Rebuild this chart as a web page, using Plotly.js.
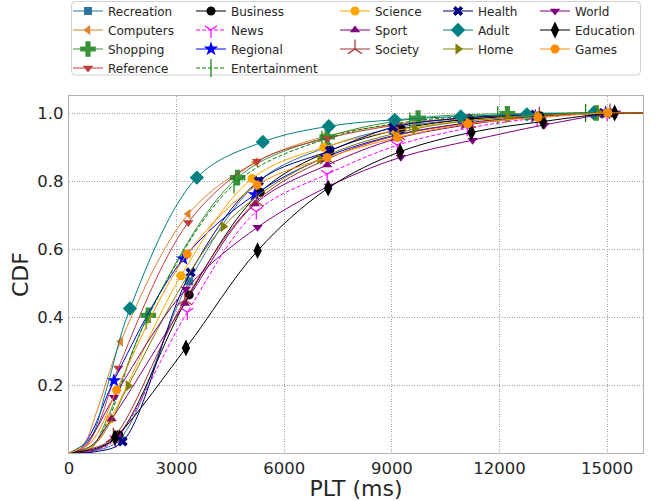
<!DOCTYPE html>
<html><head><meta charset="utf-8">
<script src="https://cdn.plot.ly/plotly-3.0.1.min.js"></script>
<style>html,body{margin:0;padding:0;background:#fff}#chart{width:659px;height:501px}</style>
</head><body><div id="chart"></div>
<script>
// ---- data ----
const categories = ['Recreation','Computers','Shopping','Reference','Business','News','Regional','Entertainment','Science','Sport','Society','Health','Adult','Home','World','Education','Games'];
const xTickVals = [0,3000,6000,9000,12000,15000];
const xTickText = ['0','3000','6000','9000','12000','15000'];
const yTickVals = [0.2,0.4,0.6,0.8,1.0];
const yTickText = ['0.2','0.4','0.6','0.8','1.0'];
const tailX = [16000];
const tailY = [1.0];

// marker points
const recreationX = [1420,3350,5300,7200,9030,10950,12870,14790];
const recreationY = [0.041,0.505,0.80,0.90,0.955,0.98,0.992,1.0];
const computersX = [1440,3324,5200,7100,9000,10900,12800,14700];
const computersY = [0.328,0.703,0.855,0.93,0.965,0.985,0.995,1.0];
const shoppingX = [2210,4700,7200,9730,12220,14700];
const shoppingY = [0.405,0.81,0.93,0.985,0.998,1.0];
const referenceX = [1375,3324,5245,7195,9150,11100,13050,15000];
const referenceY = [0.25,0.678,0.858,0.925,0.965,0.985,0.995,1.0];
const businessX = [1390,3351,5330,7270,9266,11170,13120,15070];
const businessY = [0.054,0.465,0.767,0.889,0.953,0.982,0.992,1.0];
const newsX = [1300,3296,5220,7195,9150,11100,13050,15000];
const newsY = [0.04,0.414,0.71,0.82,0.905,0.955,0.985,1.0];
const regionalX = [1253,3184,5181,7150,9100,11050,13000,14960];
const regionalY = [0.213,0.571,0.76,0.87,0.935,0.97,0.99,1.0];
const entertainmentX = [2150,4600,7050,9500,11950,14400];
const entertainmentY = [0.39,0.79,0.92,0.975,0.993,1.0];
const scienceX = [1150,3120,5100,7100,9080,11050,13030,15000];
const scienceY = [0.10,0.521,0.807,0.899,0.948,0.977,0.992,1.0];
const sportX = [1189,3231,5181,7195,9150,11100,13050,15000];
const sportY = [0.10,0.44,0.732,0.847,0.925,0.965,0.99,1.0];
const societyX = [1235,3230,5220,7200,9170,11140,13110,15080];
const societyY = [0.046,0.45,0.74,0.865,0.935,0.97,0.99,1.0];
const healthX = [1495,3390,5290,7270,9034,10950,12850,14750];
const healthY = [0.034,0.531,0.80,0.889,0.958,0.985,0.995,1.0];
const adultX = [1700,3565,5404,7242,9080,10920,12760,14620];
const adultY = [0.425,0.81,0.915,0.961,0.98,0.99,0.996,1.0];
const homeX = [1650,4300,6990,9638,12237,14790];
const homeY = [0.198,0.666,0.865,0.953,0.987,1.0];
const worldX = [1253,3259,5256,7250,9250,11250,13250,15250];
const worldY = [0.164,0.482,0.664,0.785,0.87,0.92,0.965,1.0];
const educationX = [1280,3260,5256,7223,9228,11217,13212,15209];
const educationY = [0.045,0.309,0.595,0.779,0.886,0.943,0.975,1.0];
const gamesX = [1327,3295,5245,7195,9150,11120,13072,15022];
const gamesY = [0.185,0.585,0.788,0.869,0.928,0.968,0.987,1.0];

// unmarked curve points near the origin
const recreationToeX = [0,700];      const recreationToeY = [0,0.006];
const computersToeX = [0,400,800];   const computersToeY = [0,0.025,0.13];
const shoppingToeX = [0,600,1100];   const shoppingToeY = [0,0.015,0.11];
const referenceToeX = [0,400,800];   const referenceToeY = [0,0.012,0.08];
const businessToeX = [0,700];        const businessToeY = [0,0.008];
const newsToeX = [0,700];            const newsToeY = [0,0.008];
const regionalToeX = [0,300,650];    const regionalToeY = [0,0.01,0.065];
const entertainmentToeX = [0,600,1100]; const entertainmentToeY = [0,0.013,0.10];
const scienceToeX = [0,600];         const scienceToeY = [0,0.015];
const sportToeX = [0,600];           const sportToeY = [0,0.02];
const societyToeX = [0,600];         const societyToeY = [0,0.012];
const healthToeX = [0,750];          const healthToeY = [0,0.004];
const adultToeX = [0,600,1050];      const adultToeY = [0,0.045,0.19];
const homeToeX = [0,700,1150];       const homeToeY = [0,0.025,0.09];
const worldToeX = [0,350,700];       const worldToeY = [0,0.012,0.06];
const educationToeX = [0,800];       const educationToeY = [0,0.015];
const gamesToeX = [0,600,950];       const gamesToeY = [0,0.03,0.09];

// ---- assembly ----
const markerXs = [recreationX,computersX,shoppingX,referenceX,businessX,newsX,regionalX,entertainmentX,scienceX,sportX,societyX,healthX,adultX,homeX,worldX,educationX,gamesX];
const markerYs = [recreationY,computersY,shoppingY,referenceY,businessY,newsY,regionalY,entertainmentY,scienceY,sportY,societyY,healthY,adultY,homeY,worldY,educationY,gamesY];
const toeXs = [recreationToeX,computersToeX,shoppingToeX,referenceToeX,businessToeX,newsToeX,regionalToeX,entertainmentToeX,scienceToeX,sportToeX,societyToeX,healthToeX,adultToeX,homeToeX,worldToeX,educationToeX,gamesToeX];
const toeYs = [recreationToeY,computersToeY,shoppingToeY,referenceToeY,businessToeY,newsToeY,regionalToeY,entertainmentToeY,scienceToeY,sportToeY,societyToeY,healthToeY,adultToeY,homeToeY,worldToeY,educationToeY,gamesToeY];

const styles = [
  {c:'#3274a1', s:'square', z:8},
  {c:'#e1812c', s:'triangle-left', z:9},
  {c:'#3a923a', s:'cross', z:13},
  {c:'#c03d3e', s:'triangle-down', z:9},
  {c:'#000000', s:'circle', z:9},
  {c:'#ff00ff', s:'y-down', z:10, open:true, dash:'4px,2px'},
  {c:'#0000ff', s:'star', z:11},
  {c:'#008000', s:'line-ns', z:13, open:true, dash:'4px,2px'},
  {c:'#ffa500', s:'circle', z:9},
  {c:'#800080', s:'triangle-up', z:9},
  {c:'#a52a2a', s:'y-up', z:12, open:true},
  {c:'#000080', s:'x', z:9},
  {c:'#008080', s:'diamond', z:11},
  {c:'#808000', s:'triangle-right', z:10},
  {c:'#800080', s:'triangle-down', z:9},
  {c:'#000000', s:'diamond-tall', z:12},
  {c:'#ff8c00', s:'circle', z:9}
];
const legendOf = ['legend','legend','legend','legend','legend2','legend2','legend2','legend2','legend3','legend3','legend3','legend4','legend4','legend4','legend5','legend5','legend5'];

const traces = [];
categories.forEach((name, i) => {
  const st = styles[i];
  const pts = [];
  toeXs[i].forEach((x, k) => pts.push([x, toeYs[i][k]]));
  markerXs[i].forEach((x, k) => pts.push([x, markerYs[i][k]]));
  tailX.forEach((x, k) => pts.push([x, tailY[k]]));
  pts.sort((a, b) => a[0] - b[0]);
  const line = {color: st.c, width: 1, dash: st.dash || 'solid'};
  traces.push({
    type: 'scatter', mode: 'lines', name: name, showlegend: false, hoverinfo: 'skip',
    x: pts.map(p => p[0]), y: pts.map(p => p[1]),
    line: Object.assign({shape: 'spline', smoothing: 1}, line)
  });
  const mx = [], my = [];
  markerXs[i].forEach((x, k) => { if (k) { mx.push(null); my.push(null); } mx.push(x); my.push(markerYs[i][k]); });
  traces.push({
    type: 'scatter', mode: 'lines+markers', name: name, legend: legendOf[i],
    x: mx, y: my, connectgaps: false, line: line,
    marker: {
      symbol: st.s, size: st.z, color: st.c,
      line: st.open ? {color: st.c, width: 1.2} : {width: 0}
    }
  });
});

const plotL = 69, plotW = 574, plotT = 96, plotH = 357;
const px2x = p => (p - plotL) / plotW;
const px2y = p => (plotT + plotH - p) / plotH;
const legTop = px2y(-3.5);
const legFont = {family: 'DejaVu Sans, sans-serif', size: 12, color: '#262626'};
function leg(xpx) {
  return {x: px2x(xpx), xanchor: 'left', y: legTop, yanchor: 'top', orientation: 'v',
    bgcolor: 'rgba(0,0,0,0)', borderwidth: 0, font: legFont, traceorder: 'normal'};
}
// rounded legend frame
const bx0 = px2x(71.5), bx1 = px2x(640.5), by0 = px2y(75), by1 = px2y(1.5);
const rx = 4 / plotW, ry = 4 / plotH;
const framePath = `M${bx0+rx},${by1} L${bx1-rx},${by1} Q${bx1},${by1} ${bx1},${by1-ry} L${bx1},${by0+ry} Q${bx1},${by0} ${bx1-rx},${by0} L${bx0+rx},${by0} Q${bx0},${by0} ${bx0},${by0+ry} L${bx0},${by1-ry} Q${bx0},${by1} ${bx0+rx},${by1} Z`;

const axisFont = {family: 'DejaVu Sans, sans-serif', size: 16.5, color: '#262626'};
const layout = {
  width: 659, height: 501,
  margin: {l: plotL, r: 659 - plotL - plotW, t: plotT, b: 501 - plotT - plotH, pad: 0, autoexpand: false},
  paper_bgcolor: '#ffffff', plot_bgcolor: '#ffffff',
  font: {family: 'DejaVu Sans, sans-serif', color: '#262626'},
  showlegend: true,
  xaxis: {
    range: [0, 16000], tickvals: xTickVals, ticktext: xTickText, tickfont: axisFont,
    showgrid: true, gridcolor: '#8c8c8c', gridwidth: 0.8, griddash: '1px,1.5px',
    zeroline: false, showline: true, mirror: true, linecolor: '#b0b0b0', linewidth: 1.2,
    ticks: '', ticklabelstandoff: 0, automargin: true,
    title: {text: 'PLT (ms)', font: {family: 'DejaVu Sans, sans-serif', size: 22, color: '#262626'}, standoff: 0}
  },
  yaxis: {
    range: [0, 1.05], tickvals: yTickVals, ticktext: yTickText, tickfont: axisFont,
    showgrid: true, gridcolor: '#8c8c8c', gridwidth: 0.8, griddash: '1px,1.5px',
    zeroline: false, showline: true, mirror: true, linecolor: '#b0b0b0', linewidth: 1.2,
    ticks: '', ticklabelstandoff: 1, automargin: true,
    title: {text: 'CDF', font: {family: 'DejaVu Sans, sans-serif', size: 22, color: '#262626'}, standoff: 2}
  },
  legend: leg(68), legend2: leg(191), legend3: leg(335), legend4: leg(438), legend5: leg(535),
  shapes: [{type: 'path', xref: 'paper', yref: 'paper', path: framePath,
    fillcolor: '#ffffff', line: {color: '#d0d0d0', width: 1}, layer: 'above'}]
};

Plotly.newPlot('chart', traces, layout, {staticPlot: true, displayModeBar: false});
</script>
</body></html>
